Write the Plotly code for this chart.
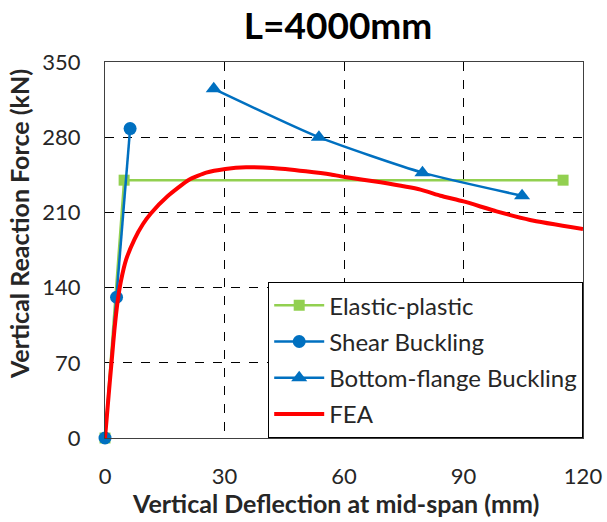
import plotly.graph_objects as go

# ---- data ----
ep_x = [0, 4.8, 115]
ep_y = [0, 240, 240]

sb_x = [0, 2.9, 6.3]
sb_y = [0, 131, 288]

bf_x = [27.3, 53.7, 79.7, 104.7]
bf_y = [325, 280, 247, 225.5]

fea_x = [0, 0.6, 1.2, 1.8, 2.35, 3.2, 4.0, 5.3, 7.4, 9.5, 11.5, 15.7, 21.1, 25.4, 30.2,
         35.4, 42.1, 50.4, 56.7, 60.2, 69.2, 79.2, 84.2, 90, 98.3, 106.7, 120]
fea_y = [0, 26, 52, 77, 100, 128, 146, 166, 185, 199, 209, 225, 240.4, 247, 250.4,
         252, 251.3, 248.2, 245.3, 243, 238, 231.2, 225.5, 220.2, 211, 203, 194.5]

x_ticks = [0, 30, 60, 90, 120]
y_ticks = [0, 70, 140, 210, 280, 350]

x_title = "<b>Vertical Deflection at mid-span (mm)</b>"
y_title = "<b>Vertical Reaction Force (kN)</b>"
chart_title = "<b>L=4000mm</b>"

GREEN = "#92D050"
BLUE = "#0070C0"
RED = "#FF0000"
FONT = "Lato"
TXT = "#262626"

fig = go.Figure()
fig.add_trace(go.Scatter(x=ep_x, y=ep_y, name="Elastic-plastic", mode="lines+markers",
                         line=dict(color=GREEN, width=2.5),
                         marker=dict(symbol="square", size=11, color=GREEN),
                         cliponaxis=False, legendgroup="a"))
fig.add_trace(go.Scatter(x=sb_x, y=sb_y, name="Shear Buckling", mode="lines+markers",
                         line=dict(color=BLUE, width=2.5),
                         marker=dict(symbol="circle", size=13, color=BLUE),
                         cliponaxis=False, legendgroup="b"))
fig.add_trace(go.Scatter(x=bf_x, y=bf_y, name="Bottom-flange Buckling", mode="lines+markers",
                         line=dict(color=BLUE, width=2.5, shape="spline", smoothing=0.6),
                         marker=dict(symbol="triangle-up", size=14, color=BLUE),
                         cliponaxis=False, legendgroup="c"))
fig.add_trace(go.Scatter(x=fea_x, y=fea_y, name="FEA", mode="lines",
                         line=dict(color=RED, width=4, shape="spline", smoothing=0.5),
                         legendgroup="d"))

axis_common = dict(
    showgrid=True, gridcolor="black", gridwidth=1, griddash="dash",
    showline=True, linecolor="#404040", linewidth=1.2, mirror=True,
    zeroline=False, ticks="", automargin=False,
    tickfont=dict(family=FONT, size=22, color=TXT),
)

fig.update_xaxes(range=[0, 120], tickvals=x_ticks, ticklabelstandoff=18, **axis_common)
fig.update_yaxes(range=[0, 350], tickvals=y_ticks, ticklabelstandoff=19, **axis_common)

fig.add_annotation(text=x_title, xref="paper", yref="paper", x=0.483, y=-0.173,
                   xanchor="center", yanchor="middle", showarrow=False,
                   font=dict(family=FONT, size=25, color=TXT))
fig.add_annotation(text=y_title, xref="paper", yref="paper", x=-0.18, y=0.569,
                   xanchor="center", yanchor="middle", showarrow=False, textangle=-90,
                   font=dict(family=FONT, size=25, color=TXT))

fig.update_layout(
    width=607, height=522,
    margin=dict(l=105, r=24, t=62, b=84),
    paper_bgcolor="white", plot_bgcolor="white",
    title=dict(text=chart_title, x=0.557, xanchor="center", y=0.951, yanchor="middle",
               font=dict(family=FONT, size=37, color="black")),
    legend=dict(x=1, xanchor="right", y=0, yanchor="bottom",
                bgcolor="white", bordercolor="black", borderwidth=1.2,
                font=dict(family=FONT, size=24, color=TXT),
                tracegroupgap=2, itemwidth=50),
    showlegend=True,
)

# remove the default page margin so the figure sits at the window's top-left corner
fig.write_html("out.html", config={"displayModeBar": False},
               post_script="document.body.style.margin='0';document.body.style.overflow='hidden';")
